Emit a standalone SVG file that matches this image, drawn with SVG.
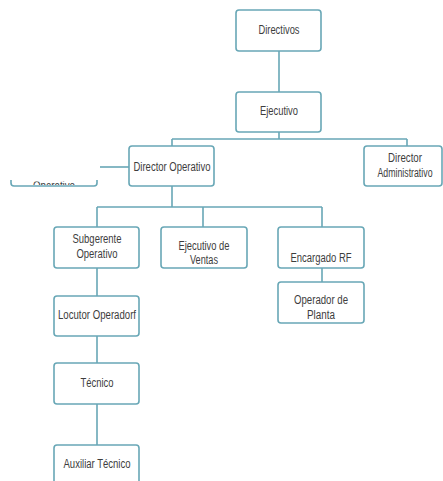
<svg xmlns="http://www.w3.org/2000/svg" width="443" height="481" viewBox="0 0 443 481">
<defs>
<style>
.box{fill:#fff;stroke:#68a7b6;stroke-width:1.6}
.ln{fill:none;stroke:#68a7b6;stroke-width:1.6}
text{font-family:"Liberation Sans",Arial,sans-serif;font-size:12px;fill:#3d3d3d;text-anchor:middle}
</style>
<clipPath id="frag"><rect x="0" y="181.5" width="120" height="3.5"/></clipPath>
</defs>
<rect width="443" height="481" fill="#fff"/>
<g id="connectors">
<path class="ln" d="M279 51V92"/>
<path class="ln" d="M279 132V139M172 139H407M172 139V146M407 139V146"/>
<path class="ln" d="M100 167H129"/>
<path class="ln" d="M172 186V207M97 207H322M97 207V227M203 207V227M322 207V227"/>
<path class="ln" d="M97 268V296M97 336V363M97 404V445"/>
<path class="ln" d="M322 268V282"/>
</g>
<g id="n-frag">
<path class="ln" d="M11 180V183Q11 186 14 186H94Q97 186 97 183V180"/>
<text x="54" y="190" textLength="42" lengthAdjust="spacingAndGlyphs" clip-path="url(#frag)">Operativo</text>
</g>
<g id="n-directivos"><rect class="box" x="236" y="10" width="85" height="41" rx="3"/><text x="279" y="33.5" textLength="41" lengthAdjust="spacingAndGlyphs">Directivos</text></g>
<g id="n-ejecutivo"><rect class="box" x="236" y="92" width="85" height="40" rx="3"/><text x="279" y="114.5" textLength="38" lengthAdjust="spacingAndGlyphs">Ejecutivo</text></g>
<g id="n-dir-op"><rect class="box" x="129" y="146" width="85" height="40" rx="3"/><text x="172" y="170.5" textLength="77" lengthAdjust="spacingAndGlyphs">Director Operativo</text></g>
<g id="n-dir-adm"><rect class="box" x="364" y="146" width="78" height="40" rx="3"/><text x="405" y="162" textLength="34" lengthAdjust="spacingAndGlyphs">Director</text><text x="405" y="176.5" font-size="10.5" textLength="55" lengthAdjust="spacingAndGlyphs">Administrativo</text></g>
<g id="n-subgerente"><rect class="box" x="54" y="227" width="85" height="41" rx="3"/><text x="97" y="243" textLength="49" lengthAdjust="spacingAndGlyphs">Subgerente</text><text x="97" y="257.5" textLength="41" lengthAdjust="spacingAndGlyphs">Operativo</text></g>
<g id="n-ventas"><rect class="box" x="161" y="227" width="86" height="41" rx="3"/><text x="204" y="250" textLength="51" lengthAdjust="spacingAndGlyphs">Ejecutivo de</text><text x="204" y="264" textLength="28" lengthAdjust="spacingAndGlyphs">Ventas</text></g>
<g id="n-rf"><rect class="box" x="278" y="227" width="86" height="41" rx="3"/><text x="321" y="262" textLength="61" lengthAdjust="spacingAndGlyphs">Encargado RF</text></g>
<g id="n-planta"><rect class="box" x="278" y="282" width="86" height="41" rx="3"/><text x="321" y="304" textLength="54" lengthAdjust="spacingAndGlyphs">Operador de</text><text x="321" y="318.5" textLength="28" lengthAdjust="spacingAndGlyphs">Planta</text></g>
<g id="n-locutor"><rect class="box" x="54" y="296" width="85" height="40" rx="3"/><text x="97" y="319" textLength="78" lengthAdjust="spacingAndGlyphs">Locutor Operadorf</text></g>
<g id="n-tecnico"><rect class="box" x="54" y="363" width="85" height="41" rx="3"/><text x="97" y="386.5" textLength="33" lengthAdjust="spacingAndGlyphs">Técnico</text></g>
<g id="n-auxiliar"><rect class="box" x="54" y="445" width="85" height="41" rx="3"/><text x="97" y="468" textLength="67" lengthAdjust="spacingAndGlyphs">Auxiliar Técnico</text></g>
</svg>
